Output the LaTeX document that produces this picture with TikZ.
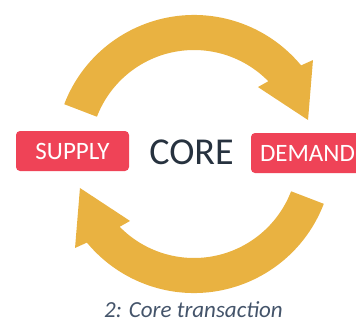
\documentclass[tikz,border=0pt]{standalone}
\usepackage{fontspec}
\setmainfont{Carlito}
\definecolor{gold}{HTML}{E9B241}
\definecolor{boxred}{HTML}{EF4357}
\definecolor{coretext}{HTML}{27323F}
\definecolor{captext}{HTML}{44546A}
\tikzset{
  arrowband/.style={fill=gold, draw=none},
  labelbox/.style={fill=boxred, rounded corners=4pt, text=white, minimum width=113pt, minimum height=40pt, inner sep=0pt, font=\fontsize{25}{25}\selectfont},
}
\begin{document}
\begin{tikzpicture}[x=1pt,y=1pt]
\useasboundingbox (0,0) rectangle (356,-322);
\begin{scope}[shift={(194,-154)}]
  \path[arrowband] (159:139) arc[start angle=159, end angle=39.6, radius=139]
    -- (38.3:151.6) -- (16.6:119) -- (46.3:92.6) -- (44.4:104)
    arc[start angle=44.4, end angle=159, radius=104] -- cycle;
  \begin{scope}[rotate=180]
  \path[arrowband] (159:139) arc[start angle=159, end angle=39.6, radius=139]
    -- (38.3:151.6) -- (16.6:119) -- (46.3:92.6) -- (44.4:104)
    arc[start angle=44.4, end angle=159, radius=104] -- cycle;
  \end{scope}
\end{scope}
\node[labelbox] (supply) at (72.5,-151) {SUPPLY};
\node[labelbox] (demand) at (307.5,-153) {DEMAND};
\node[text=coretext, font=\fontsize{38}{38}\selectfont, inner sep=0pt] (core) at (191.5,-152) {CORE};
\node[text=captext, font=\fontsize{23}{23}\selectfont\itshape, inner sep=0pt, anchor=base] (caption) at (193.5,-317) {2: Core transaction};
\end{tikzpicture}
\end{document}
